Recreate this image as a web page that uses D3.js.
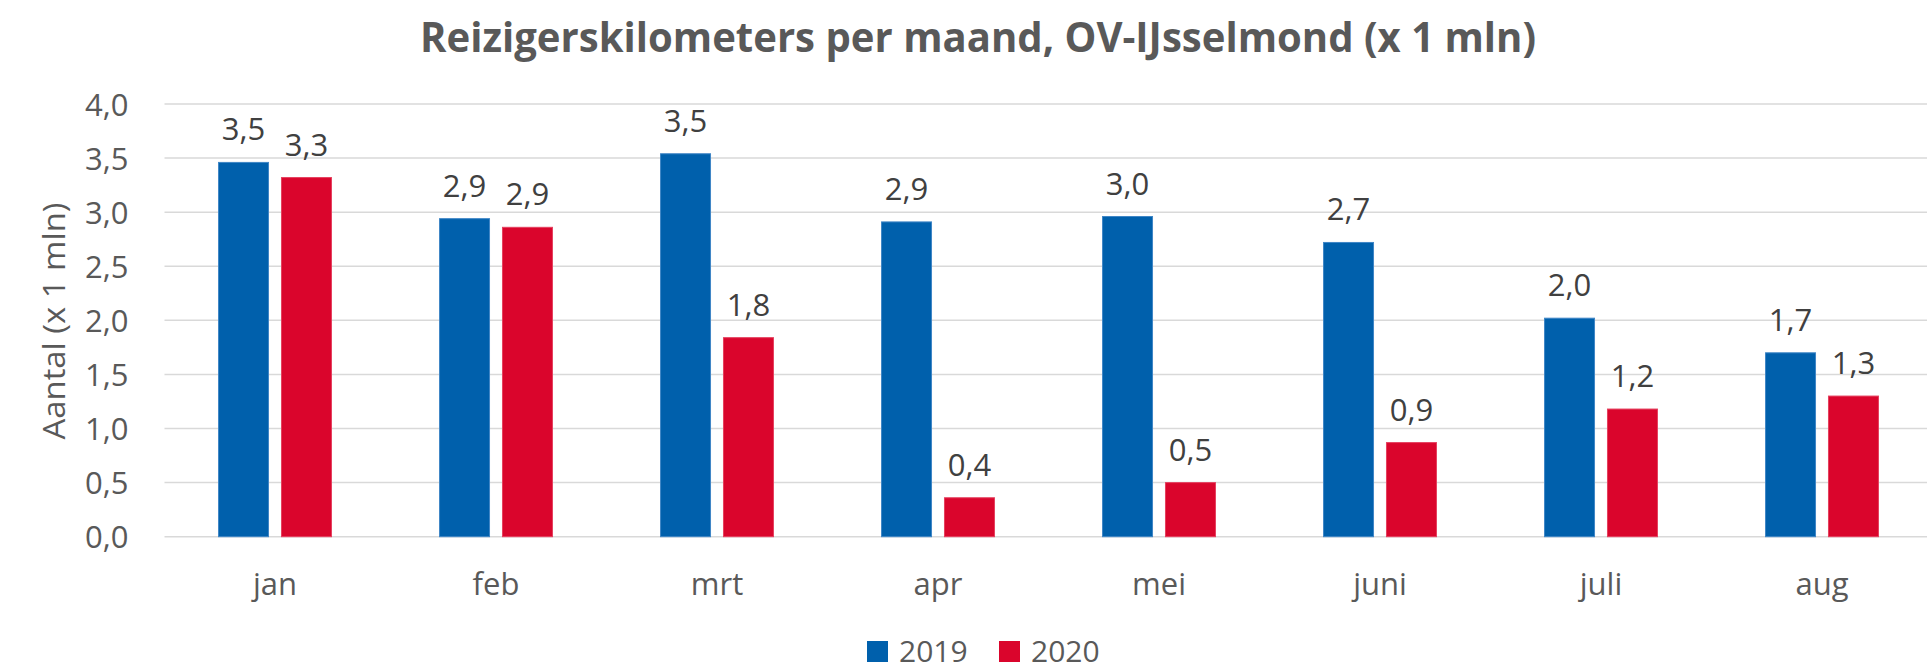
<!DOCTYPE html>
<html>
<head>
<meta charset="utf-8">
<script src="https://cdn.jsdelivr.net/npm/d3@7/dist/d3.min.js"></script>
<style>
  html, body { margin: 0; padding: 0; background: #fff; }
  svg { display: block; font-family: "Open Sans", sans-serif; }
</style>
</head>
<body>
<div id="chart"></div>
<script>
// chart data
var months = ['jan', 'feb', 'mrt', 'apr', 'mei', 'juni', 'juli', 'aug'];
var series = ['2019', '2020'];
var values2019 = [3.46, 2.94, 3.54, 2.91, 2.96, 2.72, 2.02, 1.70];
var values2020 = [3.32, 2.86, 1.84, 0.36, 0.50, 0.87, 1.18, 1.30];
var yTicks = [0, 0.5, 1, 1.5, 2, 2.5, 3, 3.5, 4];
var colors = { '2019': '#0060AC', '2020': '#DA052C' };
var strokes = { '2019': '#3F86C6', '2020': '#E5405E' };

var width = 1927, height = 670;
var plot = { left: 164.5, right: 1932.5, top: 104, bottom: 536.7 };

var nl = d3.formatLocale({ decimal: ',', thousands: '.', grouping: [3], currency: ['€', ''] });
var fmt = nl.format('.1f');

var svg = d3.select('#chart')
  .append('svg')
  .attr('width', width)
  .attr('height', height);

var x = d3.scaleBand()
  .domain(months)
  .range([plot.left, plot.right])
  .paddingInner(0.489)
  .paddingOuter(0.2445);

var xs = d3.scaleBand()
  .domain(series)
  .range([0, x.bandwidth()])
  .paddingInner(0.206);

var y = d3.scaleLinear()
  .domain([0, 4])
  .range([plot.bottom, plot.top]);

// gridlines
svg.append('g')
  .selectAll('line')
  .data(yTicks).enter()
  .append('line')
  .attr('x1', plot.left)
  .attr('x2', width)
  .attr('y1', function(d) { return y(d); })
  .attr('y2', function(d) { return y(d); })
  .attr('stroke', '#D9D9D9')
  .attr('stroke-width', 1.5);

// y axis
var yAxis = svg.append('g')
  .attr('transform', 'translate(' + plot.left + ',0)')
  .call(d3.axisLeft(y).tickValues(yTicks).tickSize(0).tickPadding(36).tickFormat(fmt));
yAxis.select('.domain').remove();
yAxis.selectAll('text')
  .attr('dy', '0.36em')
  .style('font-size', '31px')
  .style('font-family', '"Open Sans", sans-serif')
  .attr('fill', '#595959');

// x axis
var xAxis = svg.append('g')
  .attr('transform', 'translate(0,' + plot.bottom + ')')
  .call(d3.axisBottom(x).tickSize(0).tickPadding(36));
xAxis.select('.domain').remove();
xAxis.selectAll('text')
  .style('font-size', '31px')
  .style('font-family', '"Open Sans", sans-serif')
  .attr('fill', '#595959');

// bars
var rows = months.map(function(m, i) {
  return { month: m, vals: [
    { key: '2019', value: values2019[i] },
    { key: '2020', value: values2020[i] }
  ]};
});

var groups = svg.append('g')
  .selectAll('g')
  .data(rows).enter()
  .append('g')
  .attr('transform', function(d) { return 'translate(' + x(d.month) + ',0)'; });

groups.selectAll('rect')
  .data(function(d) { return d.vals; }).enter()
  .append('rect')
  .attr('x', function(d) { return xs(d.key); })
  .attr('width', xs.bandwidth())
  .attr('y', function(d) { return y(d.value); })
  .attr('height', function(d) { return y(0) - y(d.value); })
  .attr('fill', function(d) { return colors[d.key]; })
  .attr('stroke', function(d) { return strokes[d.key]; })
  .attr('stroke-width', 1);

groups.selectAll('text')
  .data(function(d) { return d.vals; }).enter()
  .append('text')
  .attr('x', function(d) { return xs(d.key) + xs.bandwidth() / 2; })
  .attr('y', function(d) { return y(d.value) - 22; })
  .attr('text-anchor', 'middle')
  .attr('font-size', '31px')
  .attr('fill', '#404040')
  .text(function(d) { return fmt(d.value); });

// title
svg.append('text')
  .attr('x', 420)
  .attr('y', 52)
  .attr('font-size', '42px')
  .attr('font-weight', 'bold')
  .attr('fill', '#595959')
  .attr('textLength', 1116)
  .attr('lengthAdjust', 'spacingAndGlyphs')
  .text('Reizigerskilometers per maand, OV-IJsselmond (x 1 mln)');

// y axis title
svg.append('text')
  .attr('transform', 'translate(65,321) rotate(-90)')
  .attr('text-anchor', 'middle')
  .attr('font-size', '31px')
  .attr('fill', '#595959')
  .attr('textLength', 237)
  .attr('lengthAdjust', 'spacingAndGlyphs')
  .text('Aantal (x 1 mln)');

// legend
var legendX = [867, 999];
var legend = svg.append('g')
  .selectAll('g')
  .data(series).enter()
  .append('g')
  .attr('transform', function(d, i) { return 'translate(' + legendX[i] + ',641)'; });

legend.append('rect')
  .attr('width', 21)
  .attr('height', 21)
  .attr('fill', function(d) { return colors[d]; });

legend.append('text')
  .attr('x', 32)
  .attr('y', 20.5)
  .attr('font-size', '30px')
  .attr('fill', '#595959')
  .text(function(d) { return d; });
</script>
</body>
</html>
